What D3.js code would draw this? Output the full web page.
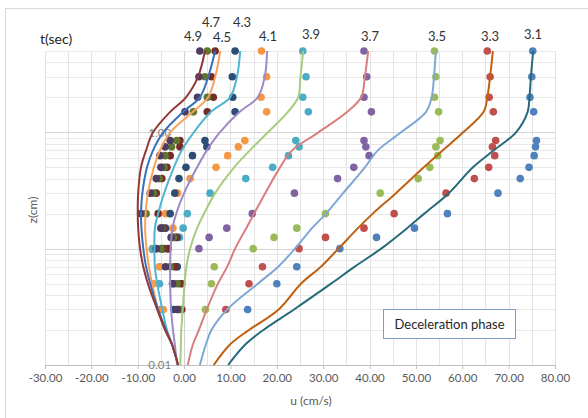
<!DOCTYPE html>
<html><head><meta charset="utf-8">
<script src="https://cdn.jsdelivr.net/npm/d3@7"></script>
<style>
body{margin:0;background:#fff}
svg{display:block}
text{font-family:Lato,"Liberation Sans",sans-serif}
</style>
</head><body>
<svg id="c" width="588" height="418"></svg>
<script>
// ---------- data ----------
const times = ["3.1","3.3","3.5","3.7","3.9","4.1","4.3","4.5","4.7","4.9"];
const zModel = [0.01,0.015,0.02,0.03,0.05,0.07,0.1,0.15,0.2,0.3,0.5,0.7,1,1.5,2,3,5];
const zMeas  = [5,3,2,1.5,0.85,0.75,0.63,0.5,0.4,0.3,0.2,0.15,0.125,0.1,0.07,0.05,0.03];

const model31 = [9.5,13.2,17.1,23.7,31.7,36.8,42.5,48.1,51.8,57.1,62.3,66.8,71.6,74.1,74.5,74.8,75.3];
const model33 = [6.4,9.9,14.0,20.4,25.2,29.5,33.3,37.5,40.7,45.7,51.7,55.8,60.2,64.6,65.4,66.0,66.6];
const model35 = [3.4,4.7,5.9,9.3,15.9,20.3,23.9,27.6,30.6,34.3,39.0,41.8,46.8,52.2,53.4,53.9,54.3];
const model37 = [0.8,1.9,3.2,4.9,7.3,9.3,11.0,13.4,15.1,17.5,20.7,23.3,29.0,35.2,38.2,39.0,39.7];
const model39 = [-0.8,-0.7,-0.6,-0.3,0.1,0.5,1.3,2.8,4.3,6.7,10.8,14.2,18.1,22.4,24.6,25.1,25.7];
const model41 = [-1.5,-2.0,-2.4,-2.8,-3.0,-3.0,-2.9,-2.5,-1.7,0.0,2.8,4.9,7.7,12.0,15.9,17.4,17.9];
const model43 = [-1.3,-2.6,-3.7,-4.7,-5.8,-6.3,-6.4,-6.3,-5.6,-4.3,-2.2,-0.5,2.1,5.8,9.9,11.4,12.1];
const model45 = [-1.3,-2.6,-4.1,-5.6,-6.9,-7.6,-8.1,-8.4,-8.3,-7.8,-6.5,-5.2,-3.0,1.9,5.2,6.7,7.8];
const model47 = [-1.3,-2.6,-3.9,-5.6,-7.3,-8.2,-8.8,-9.2,-9.3,-9.0,-8.0,-6.7,-4.5,-0.2,3.4,5.2,6.7];
const model49 = [-1.3,-2.6,-4.1,-5.8,-7.8,-8.8,-9.5,-9.9,-10.0,-9.9,-9.3,-8.2,-6.7,-3.0,0.4,3.0,4.5];

const meas31 = [75.2,75.0,74.6,75.4,76.0,75.8,75.5,74.4,72.5,67.7,56.8,49.7,41.5,33.6,24.3,20.0,13.7];
const meas33 = [65.4,66.0,65.8,66.7,67.2,66.5,67.0,65.7,62.6,56.5,45.3,38.8,30.5,24.8,16.9,14.0,9.0];
const meas35 = [54.0,54.3,54.0,54.9,55.2,54.3,54.7,53.0,50.5,42.3,30.5,24.3,19.4,14.9,6.5,5.9,4.6];
const meas37 = [38.8,39.4,38.8,40.4,38.8,39.2,39.9,36.6,33.1,23.8,14.7,9.2,5.4,3.2,-1.5,-0.9,-1.3];
const meas39 = [25.6,26.3,25.6,26.8,24.1,24.8,22.5,19.1,13.3,5.6,0.7,-0.2,-1.0,-6.6,-5.2,-5.3,-5.0];
const meas41 = [16.7,17.8,16.6,17.8,13.1,11.7,9.4,6.9,1.3,-1.4,-4.0,-2.4,-2.4,-4.1,-5.3,-6.6,-4.5];
const meas43 = [11.0,10.4,10.5,11.0,4.5,4.9,1.8,0.4,-1.1,-2.0,-3.0,-4.0,-1.5,-4.5,-1.5,-2.2,-2.2];
const meas45 = [6.7,5.9,6.3,5.0,-0.9,-0.9,-3.0,-3.7,-4.8,-6.0,-5.6,-4.5,-1.8,-3.5,-2.0,-0.5,-0.5];
const meas47 = [5.0,4.5,5.0,2.0,-1.6,-2.7,-4.1,-4.3,-5.4,-6.6,-8.2,-4.8,-2.3,-5.0,-3.0,-1.5,-1.0];
const meas49 = [3.4,3.2,2.9,0.2,-3.0,-4.1,-5.2,-5.0,-6.0,-7.3,-9.3,-5.0,-2.8,-6.0,-4.0,-2.5,-1.5];

const xTicks = [-30,-20,-10,0,10,20,30,40,50,60,70,80];
const yTicks = [0.01,0.1,1];

// ---------- styling / layout ----------
const dotColors  = ["#4F81BD","#C0504D","#9BBB59","#8064A2","#4BACC6","#F79646","#2C4D75","#772C2A","#5F7530","#4D3B62"];
const lineColors = ["#276A7C","#C0600F","#7FA7D6","#D97E7C","#A8CC7E","#9F88C6","#4FB6D0","#F8A15A","#3B6FB6","#953735"];
const labelPos = [[533,39],[490,41],[437,41],[370,41],[311,39],[268,41],[242,27],[222,42],[211,27],[193,41]];

const models = [model31,model33,model35,model37,model39,model41,model43,model45,model47,model49];
const meas   = [meas31,meas33,meas35,meas37,meas39,meas41,meas43,meas45,meas47,meas49];
const series = times.map((t,i)=>({
  t, color: dotColors[i], lcolor: lineColors[i], lp: labelPos[i],
  model: zModel.map((z,j)=>({z,u:models[i][j]})),
  meas: zMeas.map((z,j)=>({z,u:meas[i][j]}))
}));

const svg = d3.select("#c");
const L=45,R=555,T=51,B=365;
const x = d3.scaleLinear().domain([-30,80]).range([L,R]);
const y = d3.scaleLog().domain([0.01,5]).range([B,T]);

// chart frame
svg.append("rect").attr("x",5.5).attr("y",8.5).attr("width",590).attr("height",420)
  .attr("fill","#fff").attr("stroke","#d9d9d9");

// grid
const g = svg.append("g");
const vgrid = d3.range(-30,80.1,5);
g.selectAll(".vg").data(vgrid).join("line")
  .attr("x1",d=>Math.round(x(d))+0.5).attr("x2",d=>Math.round(x(d))+0.5)
  .attr("y1",T).attr("y2",B).attr("stroke","#e3e3e3");
const hgrid=[];
[0.01,0.1,1].forEach(b=>{for(let m=1;m<=9;m++){const v=+(b*m).toPrecision(3); if(v<=5.0001) hgrid.push(v);}});
g.selectAll(".hg").data(hgrid).join("line")
  .attr("x1",L).attr("x2",R)
  .attr("y1",d=>Math.round(y(d))+0.5).attr("y2",d=>Math.round(y(d))+0.5)
  .attr("stroke",d=>[0.01,0.1,1].includes(d)?"#d4d4d4":"#e8e8e8");

// x axis
const xa = svg.append("g").attr("transform",`translate(0,${B})`)
  .call(d3.axisBottom(x).tickValues(xTicks).tickFormat(d=>d.toFixed(2)).tickSize(4).tickPadding(5));
xa.select(".domain").attr("stroke","#bfbfbf");
xa.selectAll(".tick line").attr("stroke","#bfbfbf");
xa.selectAll("text").attr("fill","#595959").style("font-size","11.5px").style("font-family","Lato,'Liberation Sans',sans-serif");

// y axis at u=0
const ya = svg.append("g").attr("transform",`translate(${x(0)},0)`)
  .call(d3.axisLeft(y).tickValues(yTicks).tickFormat(d=>d.toFixed(2)).tickSize(0).tickPadding(13));
ya.select(".domain").attr("stroke","#d0d0d0");
ya.selectAll("text").attr("fill","#7f7f7f").style("font-size","11.5px").style("font-family","Lato,'Liberation Sans',sans-serif");

// axis titles
svg.append("text").attr("x",311).attr("y",405).attr("text-anchor","middle")
  .attr("fill","#595959").style("font-size","12px").text("u (cm/s)");
svg.append("text").attr("transform","translate(37,210) rotate(-90)").attr("text-anchor","middle")
  .attr("fill","#595959").style("font-size","12px").text("z(cm)");

// measured points
series.forEach(s=>{
  svg.append("g").selectAll("circle").data(s.meas).join("circle")
    .attr("cx",d=>x(d.u)).attr("cy",d=>y(d.z)).attr("r",3.8).attr("fill",s.color);
});
// model lines
const line = d3.line().x(d=>x(d.u)).y(d=>y(d.z)).curve(d3.curveCatmullRom.alpha(0.5));
series.forEach(s=>{
  svg.append("path").datum(s.model).attr("d",line).attr("fill","none")
    .attr("stroke",s.lcolor).attr("stroke-width",2);
});

// time labels
svg.append("text").attr("x",40).attr("y",44).attr("fill","#262626").style("font-size","14px").text("t(sec)");
series.forEach(s=>{
  svg.append("text").attr("x",s.lp[0]).attr("y",s.lp[1]).attr("text-anchor","middle")
    .attr("fill","#333").style("font-size","13px").text(s.t);
});

// annotation box
svg.append("rect").attr("x",383.5).attr("y",309.5).attr("width",132).attr("height",29)
  .attr("fill","#fff").attr("stroke","#7f9cc4");
svg.append("text").attr("x",449.5).attr("y",329).attr("text-anchor","middle")
  .attr("fill","#262626").style("font-size","13px").text("Deceleration phase");
</script>
</body></html>
